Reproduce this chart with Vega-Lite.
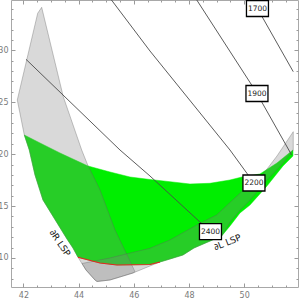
{
  "$schema": "https://vega.github.io/schema/vega-lite/v6.json",
  "width": 287,
  "height": 287,
  "autosize": {"type": "none"},
  "padding": {"left": 11, "top": 0, "right": 2, "bottom": 15},
  "background": "white",
  "config": {
    "view": {"stroke": "#a8a8a8", "strokeWidth": 1},
    "axis": {"domain": false, "grid": false, "labelFont": "DejaVu Sans", "labelFontSize": 8, "labelColor": "#7a7a7a", "tickColor": "#9a9a9a", "title": null}
  },
  "datasets": {
    "green": [
      {"i": 0, "x": 42.032, "y": 21.844}, {"i": 1, "x": 42.601, "y": 21.074}, {"i": 2, "x": 43.325, "y": 20.110},
      {"i": 3, "x": 44.340, "y": 18.858}, {"i": 4, "x": 45.137, "y": 18.280}, {"i": 5, "x": 45.862, "y": 17.798},
      {"i": 6, "x": 46.586, "y": 17.557}, {"i": 7, "x": 47.311, "y": 17.345}, {"i": 8, "x": 48.036, "y": 17.124},
      {"i": 9, "x": 48.760, "y": 17.191}, {"i": 10, "x": 49.485, "y": 17.509}, {"i": 11, "x": 49.920, "y": 17.798},
      {"i": 12, "x": 50.572, "y": 18.087}, {"i": 13, "x": 51.188, "y": 19.147}, {"i": 14, "x": 51.767, "y": 20.399},
      {"i": 15, "x": 51.767, "y": 19.821}, {"i": 16, "x": 51.405, "y": 18.858}, {"i": 17, "x": 50.825, "y": 16.931},
      {"i": 18, "x": 50.209, "y": 15.100}, {"i": 19, "x": 49.847, "y": 14.330}, {"i": 20, "x": 49.485, "y": 13.077},
      {"i": 21, "x": 49.184, "y": 12.114}, {"i": 22, "x": 48.180, "y": 10.958}, {"i": 23, "x": 47.782, "y": 10.284},
      {"i": 24, "x": 47.311, "y": 9.898}, {"i": 25, "x": 46.949, "y": 9.609}, {"i": 26, "x": 46.586, "y": 9.368},
      {"i": 27, "x": 45.391, "y": 9.320}, {"i": 28, "x": 44.775, "y": 9.513}, {"i": 29, "x": 43.978, "y": 10.062},
      {"i": 30, "x": 43.796, "y": 10.958}, {"i": 31, "x": 43.579, "y": 11.825}, {"i": 32, "x": 43.289, "y": 13.077},
      {"i": 33, "x": 42.999, "y": 14.330}, {"i": 34, "x": 42.709, "y": 15.582}, {"i": 35, "x": 42.420, "y": 17.991},
      {"i": 36, "x": 42.213, "y": 20.399}, {"i": 37, "x": 42.032, "y": 21.844}
    ],
    "gray": [
      {"band": "A", "i": 0, "x": 42.662, "y": 34.147}, {"band": "A", "i": 1, "x": 42.517, "y": 33.569},
      {"band": "A", "i": 2, "x": 41.778, "y": 25.216}, {"band": "A", "i": 3, "x": 42.032, "y": 21.844},
      {"band": "A", "i": 4, "x": 42.213, "y": 20.399}, {"band": "A", "i": 5, "x": 42.420, "y": 17.991},
      {"band": "A", "i": 6, "x": 42.709, "y": 15.582}, {"band": "A", "i": 7, "x": 42.999, "y": 14.330},
      {"band": "A", "i": 8, "x": 43.289, "y": 13.077}, {"band": "A", "i": 9, "x": 43.579, "y": 11.825},
      {"band": "A", "i": 10, "x": 43.796, "y": 10.958}, {"band": "A", "i": 11, "x": 43.978, "y": 10.062},
      {"band": "A", "i": 12, "x": 44.267, "y": 8.838}, {"band": "A", "i": 13, "x": 44.593, "y": 7.875},
      {"band": "A", "i": 14, "x": 44.666, "y": 7.730}, {"band": "A", "i": 15, "x": 45.137, "y": 7.875},
      {"band": "A", "i": 16, "x": 45.970, "y": 8.549}, {"band": "A", "i": 17, "x": 46.043, "y": 8.675},
      {"band": "A", "i": 18, "x": 45.318, "y": 12.692}, {"band": "A", "i": 19, "x": 44.775, "y": 16.546},
      {"band": "A", "i": 20, "x": 44.329, "y": 18.954}, {"band": "A", "i": 21, "x": 44.112, "y": 20.399},
      {"band": "A", "i": 22, "x": 43.445, "y": 25.534}, {"band": "A", "i": 23, "x": 42.662, "y": 34.147},
      {"band": "B", "i": 0, "x": 44.122, "y": 9.465}, {"band": "B", "i": 1, "x": 45.137, "y": 9.995},
      {"band": "B", "i": 2, "x": 46.586, "y": 10.929}, {"band": "B", "i": 3, "x": 47.311, "y": 11.729},
      {"band": "B", "i": 4, "x": 48.398, "y": 13.337}, {"band": "B", "i": 5, "x": 49.003, "y": 14.137},
      {"band": "B", "i": 6, "x": 49.909, "y": 16.382}, {"band": "B", "i": 7, "x": 50.572, "y": 17.673},
      {"band": "B", "i": 8, "x": 51.188, "y": 19.821}, {"band": "B", "i": 9, "x": 51.778, "y": 22.162},
      {"band": "B", "i": 10, "x": 51.778, "y": 20.399}, {"band": "B", "i": 11, "x": 51.405, "y": 19.147},
      {"band": "B", "i": 12, "x": 50.825, "y": 17.509}, {"band": "B", "i": 13, "x": 50.209, "y": 15.582},
      {"band": "B", "i": 14, "x": 49.847, "y": 14.619}, {"band": "B", "i": 15, "x": 49.485, "y": 13.463},
      {"band": "B", "i": 16, "x": 49.184, "y": 12.114}, {"band": "B", "i": 17, "x": 48.180, "y": 10.958},
      {"band": "B", "i": 18, "x": 47.782, "y": 10.284}, {"band": "B", "i": 19, "x": 47.311, "y": 9.898},
      {"band": "B", "i": 20, "x": 46.949, "y": 9.609}, {"band": "B", "i": 21, "x": 46.586, "y": 9.224},
      {"band": "B", "i": 22, "x": 45.970, "y": 8.549}, {"band": "B", "i": 23, "x": 45.137, "y": 7.875},
      {"band": "B", "i": 24, "x": 44.666, "y": 7.730}, {"band": "B", "i": 25, "x": 44.593, "y": 7.875},
      {"band": "B", "i": 26, "x": 44.267, "y": 8.838}, {"band": "B", "i": 27, "x": 44.122, "y": 9.465}
    ],
    "red": [
      {"i": 0, "x": 43.978, "y": 10.062}, {"i": 1, "x": 44.775, "y": 9.513}, {"i": 2, "x": 45.391, "y": 9.320},
      {"i": 3, "x": 46.586, "y": 9.368}, {"i": 4, "x": 46.949, "y": 9.609}
    ],
    "contours": [
      {"level": "1700", "i": 0, "x": 50.481, "y": 34.031}, {"level": "1700", "i": 1, "x": 51.778, "y": 27.942},
      {"level": "1900", "i": 0, "x": 48.282, "y": 34.85}, {"level": "1900", "i": 1, "x": 50.271, "y": 26.661},
      {"level": "1900", "i": 2, "x": 50.463, "y": 25.842}, {"level": "1900", "i": 3, "x": 51.720, "y": 19.917},
      {"level": "2200", "i": 0, "x": 45.191, "y": 34.85}, {"level": "2200", "i": 1, "x": 46.586, "y": 29.937},
      {"level": "2200", "i": 2, "x": 49.485, "y": 20.399}, {"level": "2200", "i": 3, "x": 50.354, "y": 17.220},
      {"level": "2400", "i": 0, "x": 42.093, "y": 29.137}, {"level": "2400", "i": 1, "x": 45.499, "y": 20.399},
      {"level": "2400", "i": 2, "x": 46.586, "y": 17.894}, {"level": "2400", "i": 3, "x": 48.778, "y": 12.528}
    ],
    "boxes": [
      {"label": "1700", "x": 50.481, "y": 34.031},
      {"label": "1900", "x": 50.463, "y": 25.842},
      {"label": "2200", "x": 50.354, "y": 17.220},
      {"label": "2400", "x": 48.778, "y": 12.528}
    ],
    "labelR": [{"text": "∂R LSP", "x": 43.325, "y": 11.44}],
    "labelL": [{"text": "∂L LSP", "x": 49.394, "y": 11.507}]
  },
  "resolve": {"axis": {"x": "independent", "y": "independent"}},
  "layer": [
    {
      "data": {"name": "green"},
      "mark": {"type": "line", "fill": "#00ee00", "stroke": "#00ee00", "strokeWidth": 0.5},
      "encoding": {
        "x": {"field": "x", "type": "quantitative", "scale": {"domain": [41.55, 51.95], "nice": false, "zero": false},
              "axis": {"orient": "bottom", "values": [42, 44, 46, 48, 50], "ticks": false, "labelPadding": 4, "format": "d"}},
        "y": {"field": "y", "type": "quantitative", "scale": {"domain": [7.2, 34.85], "nice": false, "zero": false},
              "axis": {"orient": "left", "values": [10, 15, 20, 25, 30], "ticks": false, "labelPadding": 3, "format": "d"}},
        "order": {"field": "i", "type": "quantitative"}
      }
    },
    {
      "data": {"name": "gray"},
      "mark": {"type": "line", "fill": "#808080", "fillOpacity": 0.3, "stroke": "#606060", "strokeWidth": 0.6, "strokeOpacity": 0.6},
      "encoding": {
        "x": {"field": "x", "type": "quantitative", "scale": {"domain": [41.55, 51.95], "nice": false, "zero": false},
              "axis": {"orient": "bottom", "values": [42, 44, 46, 48, 50], "labels": false, "tickSize": -4}},
        "y": {"field": "y", "type": "quantitative", "scale": {"domain": [7.2, 34.85], "nice": false, "zero": false},
              "axis": {"orient": "left", "values": [10, 15, 20, 25, 30], "labels": false, "tickSize": -4}},
        "detail": {"field": "band", "type": "nominal"},
        "order": {"field": "i", "type": "quantitative"}
      }
    },
    {
      "data": {"name": "red"},
      "mark": {"type": "line", "stroke": "#e3261f", "strokeWidth": 1.2},
      "encoding": {
        "x": {"field": "x", "type": "quantitative", "scale": {"domain": [41.55, 51.95], "nice": false, "zero": false},
              "axis": {"orient": "bottom", "values": [42.5, 43, 43.5, 44.5, 45, 45.5, 46.5, 47, 47.5, 48.5, 49, 49.5, 50.5, 51, 51.5], "labels": false, "tickSize": -2}},
        "y": {"field": "y", "type": "quantitative", "scale": {"domain": [7.2, 34.85], "nice": false, "zero": false},
              "axis": {"orient": "left", "values": [8, 9, 11, 12, 13, 14, 16, 17, 18, 19, 21, 22, 23, 24, 26, 27, 28, 29, 31, 32, 33, 34], "labels": false, "tickSize": -2}},
        "order": {"field": "i", "type": "quantitative"}
      }
    },
    {
      "data": {"name": "contours"},
      "mark": {"type": "line", "stroke": "#4a4a4a", "strokeWidth": 0.9},
      "encoding": {
        "x": {"field": "x", "type": "quantitative", "scale": {"domain": [41.55, 51.95], "nice": false, "zero": false},
              "axis": {"orient": "top", "values": [42, 44, 46, 48, 50], "labels": false, "tickSize": -4}},
        "y": {"field": "y", "type": "quantitative", "scale": {"domain": [7.2, 34.85], "nice": false, "zero": false},
              "axis": {"orient": "right", "values": [10, 15, 20, 25, 30], "labels": false, "tickSize": -4}},
        "detail": {"field": "level", "type": "nominal"},
        "order": {"field": "i", "type": "quantitative"}
      }
    },
    {
      "data": {"name": "boxes"},
      "mark": {"type": "point", "shape": "M-1.375,-1L1.375,-1L1.375,1L-1.375,1Z", "size": 256, "filled": true, "fill": "white", "stroke": "black", "strokeWidth": 1.3, "opacity": 1},
      "encoding": {
        "x": {"field": "x", "type": "quantitative", "scale": {"domain": [41.55, 51.95], "nice": false, "zero": false},
              "axis": {"orient": "top", "values": [42.5, 43, 43.5, 44.5, 45, 45.5, 46.5, 47, 47.5, 48.5, 49, 49.5, 50.5, 51, 51.5], "labels": false, "tickSize": -2}},
        "y": {"field": "y", "type": "quantitative", "scale": {"domain": [7.2, 34.85], "nice": false, "zero": false},
              "axis": {"orient": "right", "values": [8, 9, 11, 12, 13, 14, 16, 17, 18, 19, 21, 22, 23, 24, 26, 27, 28, 29, 31, 32, 33, 34], "labels": false, "tickSize": -2}}
      }
    },
    {
      "data": {"name": "boxes"},
      "mark": {"type": "text", "font": "DejaVu Sans", "fontSize": 7.5, "color": "#222222", "align": "center", "baseline": "middle"},
      "encoding": {
        "x": {"field": "x", "type": "quantitative", "scale": {"domain": [41.55, 51.95], "nice": false, "zero": false}, "axis": null},
        "y": {"field": "y", "type": "quantitative", "scale": {"domain": [7.2, 34.85], "nice": false, "zero": false}, "axis": null},
        "text": {"field": "label", "type": "nominal"}
      }
    },
    {
      "data": {"name": "labelR"},
      "mark": {"type": "text", "font": "DejaVu Sans", "fontSize": 9, "color": "#111111", "angle": 56, "align": "center", "baseline": "middle"},
      "encoding": {
        "x": {"field": "x", "type": "quantitative", "scale": {"domain": [41.55, 51.95], "nice": false, "zero": false}, "axis": null},
        "y": {"field": "y", "type": "quantitative", "scale": {"domain": [7.2, 34.85], "nice": false, "zero": false}, "axis": null},
        "text": {"field": "text", "type": "nominal"}
      }
    },
    {
      "data": {"name": "labelL"},
      "mark": {"type": "text", "font": "DejaVu Sans", "fontSize": 9, "color": "#111111", "angle": -22, "align": "center", "baseline": "middle"},
      "encoding": {
        "x": {"field": "x", "type": "quantitative", "scale": {"domain": [41.55, 51.95], "nice": false, "zero": false}, "axis": null},
        "y": {"field": "y", "type": "quantitative", "scale": {"domain": [7.2, 34.85], "nice": false, "zero": false}, "axis": null},
        "text": {"field": "text", "type": "nominal"}
      }
    }
  ]
}
